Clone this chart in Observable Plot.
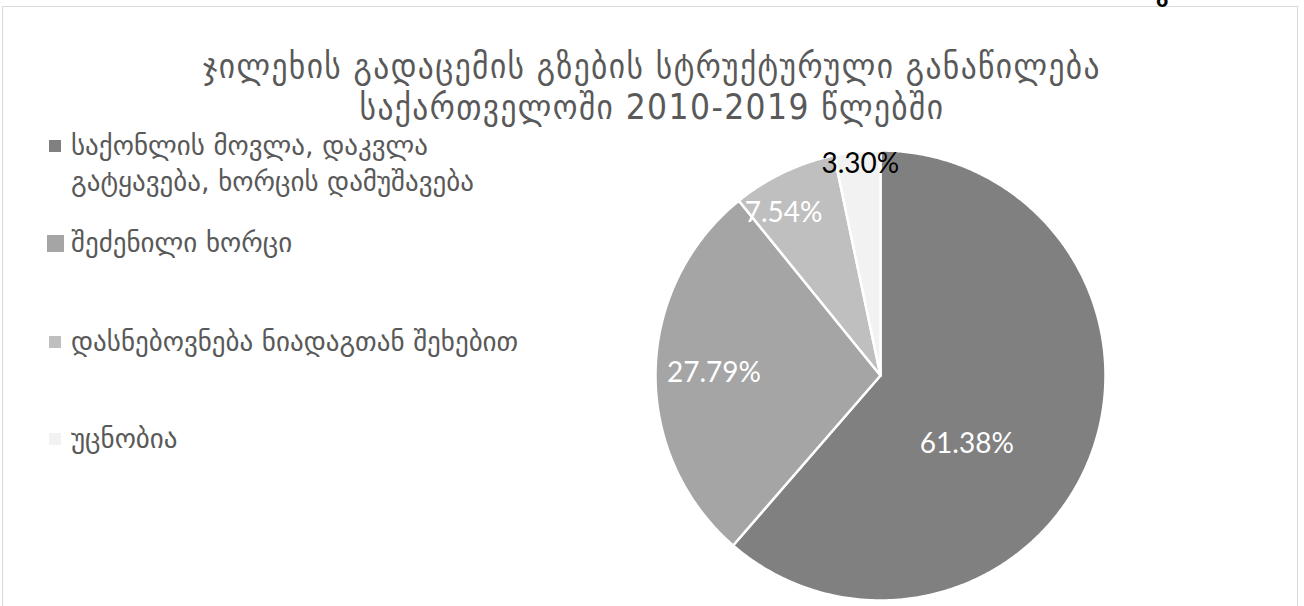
<!DOCTYPE html>
<html><head><meta charset="utf-8">
<script src="https://cdn.jsdelivr.net/npm/d3@7"></script>
<script src="https://cdn.jsdelivr.net/npm/@observablehq/plot@0.6"></script>
<style>
body{margin:0;width:1304px;height:606px;overflow:hidden;background:#fff;position:relative;}
#frame{position:absolute;left:2px;top:6px;width:1296px;height:640px;border:1.5px solid #d9d9d9;box-sizing:border-box;}
#title{position:absolute;left:0;width:1304px;top:46px;text-align:center;color:#595959;font-family:"DejaVu Sans Condensed","DejaVu Sans";font-size:35px;letter-spacing:1.4px;}
#title div{height:41px;line-height:41px;}
#chart{position:absolute;left:0;top:0;}
.lg{position:absolute;left:49px;color:#595959;font-family:"DejaVu Sans";font-size:27px;line-height:36px;}
.lg .sw{position:absolute;}
.lg .tx{position:absolute;left:22px;top:0;width:480px;}
#cut{position:absolute;left:1156px;top:-17px;font-family:"DejaVu Sans";font-weight:bold;font-size:20px;color:#000;}
</style></head>
<body>
<div id="frame"></div>
<div id="cut">გ</div>
<div id="title"></div>
<div id="chart"></div>
<div id="legend"></div>
<script>
// ---- data ----
const categories = [
  "საქონლის მოვლა, დაკვლა გატყავება, ხორცის დამუშავება",
  "შეძენილი ხორცი",
  "დასნებოვნება ნიადაგთან შეხებით",
  "უცნობია"
];
const shares = [61.38, 27.79, 7.54, 3.30];
const colors = ["#808080", "#a5a5a5", "#bfbfbf", "#f2f2f2"];
const titleLines = [
  "ჯილეხის გადაცემის გზების სტრუქტურული განაწილება",
  "საქართველოში 2010-2019 წლებში"
];

// ---- title ----
document.getElementById("title").innerHTML = titleLines.map(t => `<div>${t}</div>`).join("");

// ---- pie geometry from d3.pie ----
const arcs = d3.pie().sort(null).value(d => d)(shares);
const poly = [];
arcs.forEach((a, i) => {
  const cat = categories[i];
  poly.push({cat, x: 0, y: 0});
  const n = Math.max(4, Math.ceil((a.endAngle - a.startAngle) / (Math.PI / 360)));
  for (let k = 0; k <= n; k++) {
    const t = a.startAngle + (a.endAngle - a.startAngle) * k / n;
    poly.push({cat, x: Math.sin(t), y: Math.cos(t)});
  }
  poly.push({cat, x: 0, y: 0});
});

// label placement ("best fit"-like)
const labelRadius = [0.49, 0.74, 0.84, 0.945];
const labelShift = [18, 0, -5.4, 0.5].map(d => d * Math.PI / 180);
const labels = arcs.map((a, i) => {
  const m = (a.startAngle + a.endAngle) / 2 + labelShift[i];
  return {
    text: shares[i].toFixed(2) + "%",
    x: labelRadius[i] * Math.sin(m),
    y: labelRadius[i] * Math.cos(m),
    color: i === 3 ? "#000" : "#fff"
  };
});

const W = 1304, H = 606, cx = 880, cy = 375, R = 225;
const chart = Plot.plot({
  width: W, height: H,
  marginLeft: cx - R, marginRight: W - (cx + R),
  marginTop: cy - R, marginBottom: H - (cy + R),
  x: {domain: [-1, 1], axis: null},
  y: {domain: [-1, 1], axis: null},
  color: {domain: categories, range: colors},
  style: {background: "transparent", overflow: "visible"},
  marks: [
    Plot.line(poly, {x: "x", y: "y", z: "cat", fill: "cat", stroke: "#fff", strokeWidth: 2.5, strokeLinejoin: "round", curve: "linear"}),
    Plot.text(labels, {x: "x", y: "y", text: "text", fill: "color", fontSize: 28, fontFamily: "Lato, 'Open Sans', sans-serif"})
  ]
});
document.getElementById("chart").appendChild(chart);

// ---- legend ----
const legendTop = [128, 225, 324, 421];
const swatchSize = [12, 17, 12, 12];
const lg = document.getElementById("legend");
categories.forEach((c, i) => {
  const d = document.createElement("div");
  d.className = "lg";
  d.style.top = legendTop[i] + "px";
  const s = swatchSize[i];
  d.innerHTML = `<div class="sw" style="width:${s}px;height:${s}px;background:${colors[i]};left:${(12 - s) / 2}px;top:${(36 - s) / 2}px"></div><div class="tx">${c}</div>`;
  lg.appendChild(d);
});
</script>
</body></html>
